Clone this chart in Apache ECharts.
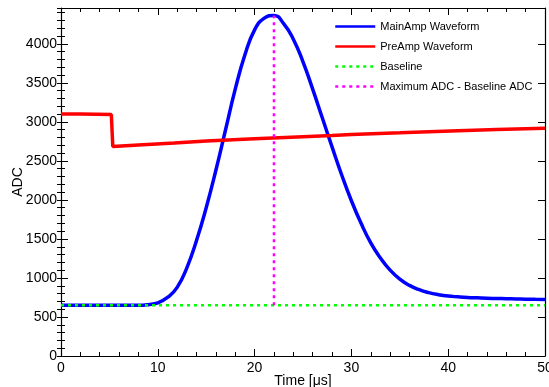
<!DOCTYPE html>
<html>
<head>
<meta charset="utf-8">
<script src="https://cdn.jsdelivr.net/npm/echarts@6/dist/echarts.min.js"></script>
<style>html,body{margin:0;padding:0;background:#fff}#c{width:549px;height:387px}</style>
</head>
<body>
<div id="c"></div>
<script>
var mainTime = [0,1,2,3,4,5,6,7,8,9,10,11,12,13,14,15,16,17,18,19,20,21,22,23,24,25,26,27,28,29,30,31,32,33,34,35,36,37,38,39,40,41,42,43,44,45,46,47,48,49,50];
var mainAdc  = [650,650,650,650,650,650,650,650,650,658,680,750,880,1130,1480,1900,2380,2900,3420,3860,4180,4330,4365,4260,4060,3770,3420,3050,2680,2320,1990,1700,1450,1255,1100,985,905,850,812,786,768,758,750,745,740,737,734,731,728,726,724];
var preTime = [0,2,5.2,5.35,8,11.7,15,20,25,28,30,35,41,45,50];
var preAdc  = [3100,3100,3095,2685,2705,2730,2755,2785,2810,2825,2838,2860,2888,2903,2918];
var baselineTime = [0,50];
var baselineAdc = [650,650];
var peakTime = [22,22];
var peakAdc = [650,4365];
var seriesNames = ['MainAmp Waveform','PreAmp Waveform','Baseline','Maximum ADC - Baseline ADC'];

function pairs(xs, ys){ return xs.map(function(x,i){ return [x, ys[i]]; }); }

var chart = echarts.init(document.getElementById('c'), null, {renderer:'canvas'});
var font = 'Liberation Sans, Arial, sans-serif';
var yMax = 4460;
function fmt(v){ return (v % 500 === 0) ? String(v) : ''; }

chart.setOption({
  animation: false,
  backgroundColor: '#fff',
  textStyle: {fontFamily: font},
  grid: {left: 61, right: 4, top: 8, bottom: 31, containLabel: false, outerBoundsMode: 'none'},
  legend: {
    orient: 'vertical', left: 329, top: 16,
    itemWidth: 40, itemHeight: 12, itemGap: 9,
    textStyle: {fontSize: 11, color: '#000', fontFamily: font},
    lineStyle: {width: 2.5},
    itemStyle: {opacity: 0},
    data: seriesNames
  },
  xAxis: [
    {type:'value', position:'bottom', min:0, max:50, interval:10,
     name:'Time [\u03bcs]', nameLocation:'middle', nameGap:18, nameMoveOverlap:false,
     nameTextStyle:{fontSize:14, color:'#000', fontFamily:font},
     axisLine:{onZero:false, lineStyle:{color:'#000', width:1.2}},
     axisTick:{inside:true, length:7, lineStyle:{color:'#000'}},
     minorTick:{show:true, splitNumber:5, length:4, lineStyle:{color:'#000'}},
     axisLabel:{fontSize:14, color:'#000', margin:5, fontFamily:font},
     splitLine:{show:false}},
    {type:'value', position:'top', min:0, max:50, interval:10,
     axisLine:{onZero:false, lineStyle:{color:'#000', width:1.2}},
     axisTick:{inside:true, length:7, lineStyle:{color:'#000'}},
     minorTick:{show:true, splitNumber:5, length:4, lineStyle:{color:'#000'}},
     axisLabel:{show:false}, splitLine:{show:false}}
  ],
  yAxis: [
    {type:'value', position:'left', min:0, max:yMax, interval:500,
     name:'ADC', nameLocation:'middle', nameGap:36, nameMoveOverlap:false,
     nameTextStyle:{fontSize:14, color:'#000', fontFamily:font},
     axisLine:{onZero:false, lineStyle:{color:'#000', width:1.2}},
     axisTick:{inside:true, length:7, lineStyle:{color:'#000'}},
     axisLabel:{fontSize:14, color:'#000', margin:4, formatter:fmt, showMaxLabel:false, fontFamily:font},
     splitLine:{show:false}},
    {type:'value', position:'left', min:0, max:yMax, interval:100,
     axisLine:{show:false},
     axisTick:{inside:true, length:4, lineStyle:{color:'#000'}},
     axisLabel:{show:false}, splitLine:{show:false}},
    {type:'value', position:'right', min:0, max:yMax, interval:500,
     axisLine:{onZero:false, lineStyle:{color:'#000', width:1.2}},
     axisTick:{inside:true, length:7, lineStyle:{color:'#000'}},
     axisLabel:{show:false}, splitLine:{show:false}},
    {type:'value', position:'right', min:0, max:yMax, interval:100,
     axisLine:{show:false},
     axisTick:{inside:true, length:4, lineStyle:{color:'#000'}},
     axisLabel:{show:false}, splitLine:{show:false}}
  ],
  series: [
    {name:seriesNames[0], type:'line', data:pairs(mainTime, mainAdc), symbol:'none', smooth:0.5, z:3,
     lineStyle:{color:'#0000ff', width:3.5}, itemStyle:{color:'#0000ff'}},
    {name:seriesNames[1], type:'line', data:pairs(preTime, preAdc), symbol:'none', z:4,
     lineStyle:{color:'#ff0000', width:3.5}, itemStyle:{color:'#ff0000'}},
    {name:seriesNames[2], type:'line', data:pairs(baselineTime, baselineAdc), symbol:'none', z:5,
     lineStyle:{color:'#00ff00', width:2.5, type:[3,4]}, itemStyle:{color:'#00ff00'}},
    {name:seriesNames[3], type:'line', data:pairs(peakTime, peakAdc), symbol:'none', z:6,
     lineStyle:{color:'#ff00ff', width:2.5, type:[3,4]}, itemStyle:{color:'#ff00ff'}}
  ]
});
</script>
</body>
</html>
